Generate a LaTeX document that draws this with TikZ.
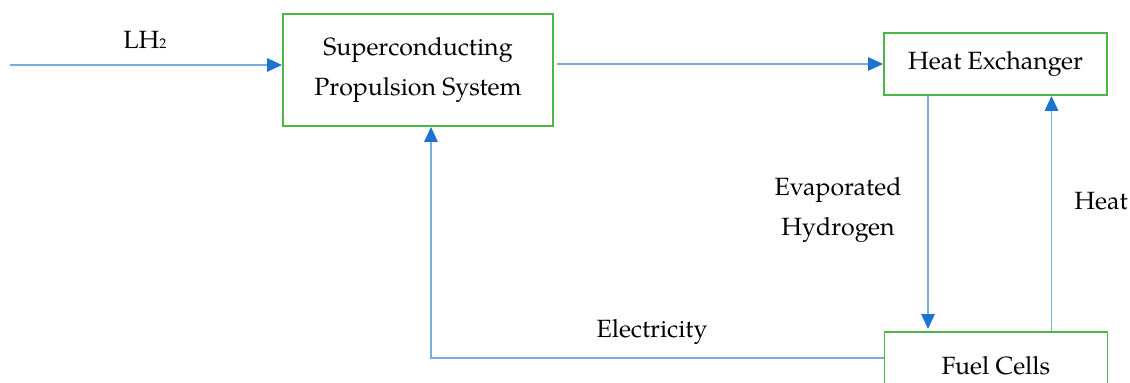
\documentclass[tikz,border=0pt]{standalone}
\usepackage{xcolor}
\usepackage{fontspec}
\setmainfont{TeX Gyre Pagella}
\usepackage{tikz}
\usetikzlibrary{arrows.meta}
\definecolor{boxgreen}{RGB}{78,182,72}
\definecolor{flowblue}{RGB}{120,172,226}
\definecolor{tipblue}{RGB}{28,116,208}
\tikzstyle{unit} = [rectangle,
					  minimum width=5.4cm,
					  minimum height=2.24cm,
					  text centered,
					  align=center,
					  line width=1.1pt,
					  draw=boxgreen,
					 ]
\tikzstyle{flowlabel} = [align=center,
					      inner sep=0pt,
					     ]
\tikzstyle{arrow} = [line width=0.8pt, draw=flowblue,
					  -{Triangle[length=3mm,width=2.7mm,color=tipblue]}]

\begin{document}
\begin{tikzpicture}[font=\fontsize{14.2}{23.2}\selectfont]
\useasboundingbox (0,0) rectangle (22.6,7.66);

\node (prop) [unit] at (8.36,6.26) {Superconducting\\Propulsion System};
\node (hx) [unit, minimum width=4.46cm, minimum height=1.24cm] at (19.91,6.38) {Heat Exchanger};
\node (fc) [unit, minimum width=4.46cm, minimum height=1.36cm] at (19.92,0.34) {Fuel Cells};
\coordinate (lh2in) at (0.2,6.36);

\node (lh2) [flowlabel] at (2.9,6.86) {LH{\footnotesize 2}};
\node (evap) [flowlabel] at (16.76,3.46) {Evaporated\\Hydrogen};
\node (heat) [flowlabel] at (22.02,3.64) {Heat};
\node (elec) [flowlabel] at (13.04,1.02) {Electricity};

\draw [arrow] (lh2in) -- (lh2in -| prop.west);
\draw [arrow, shorten <=0.06cm] (prop.east |- hx.west) -- (hx.west);
\draw [arrow] ([xshift=-1.35cm]hx.south) -- ([xshift=-1.35cm,yshift=0.04cm]hx.south |- fc.north);
\draw [arrow] ([xshift=1.11cm]fc.north) -- ([xshift=1.11cm]fc.north |- hx.south);
\draw [arrow] ([yshift=0.16cm]fc.west) -| ([xshift=0.26cm]prop.south);

\end{tikzpicture}
\end{document}
